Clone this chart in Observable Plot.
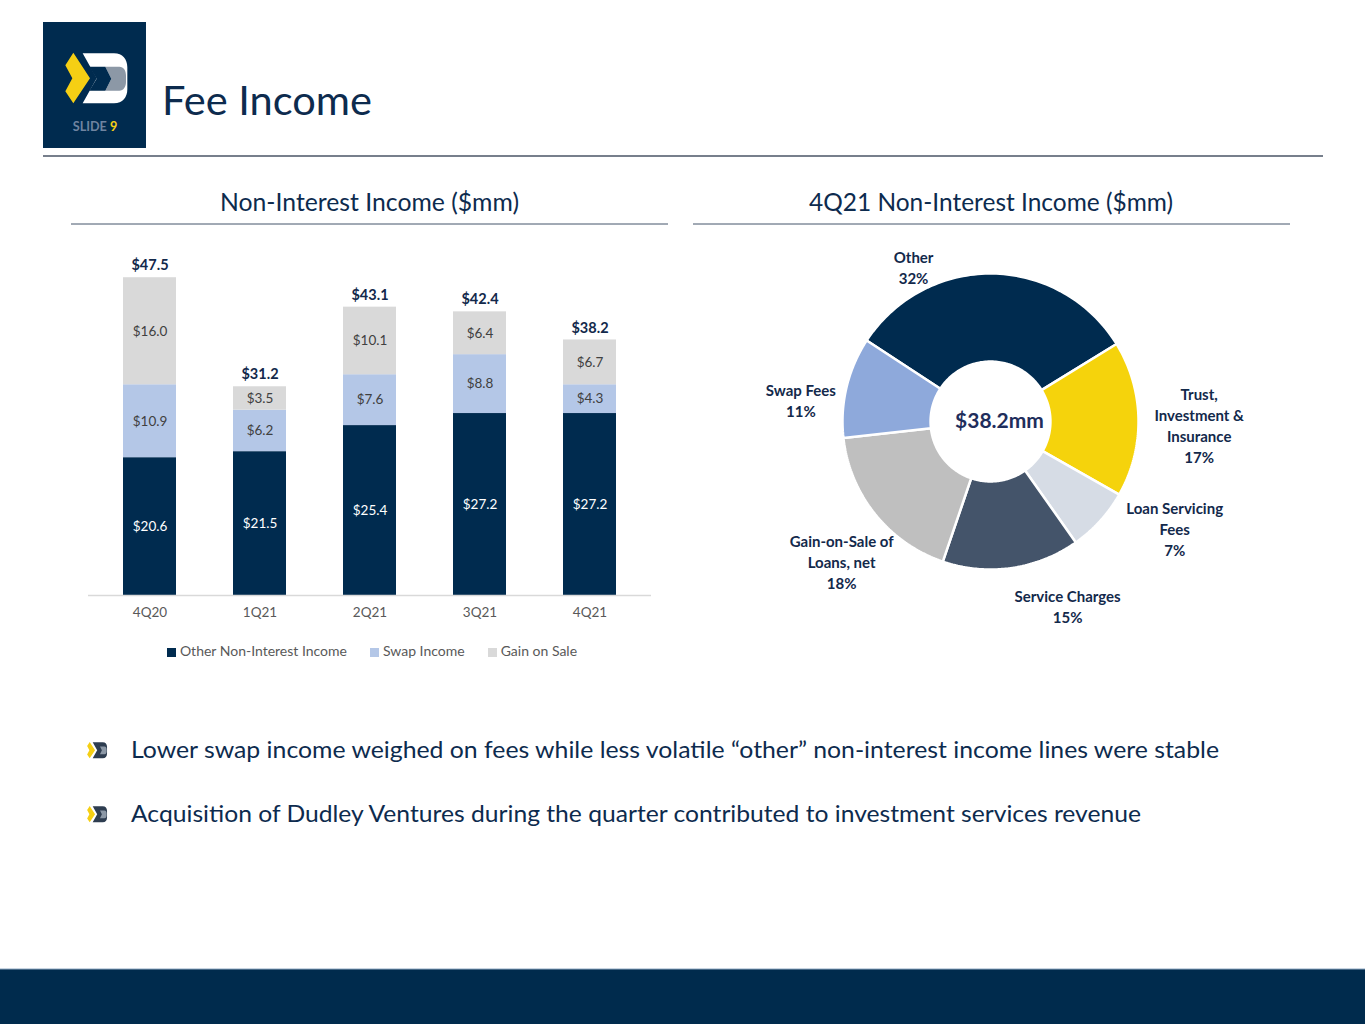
<!DOCTYPE html>
<html><head><meta charset="utf-8">
<script src="https://cdn.jsdelivr.net/npm/d3@7"></script>
<script src="https://cdn.jsdelivr.net/npm/@observablehq/plot@0.6"></script>
<style>
body{margin:0;background:#fff;}
#page{position:relative;width:1365px;height:1024px;overflow:hidden;font-family:Lato,"Open Sans",sans-serif;}
#deco{position:absolute;left:0;top:0}
#bars{position:absolute;left:70px;top:240px}
#donut{position:absolute;left:770px;top:240px}
#legend{position:absolute;left:70px;top:642px;width:604px;height:18px;display:flex;justify-content:center;align-items:center;gap:23px;font-size:14px;color:#595959;line-height:18px}
#legend .sw{display:inline-block;width:9px;height:9px;margin-right:4px;vertical-align:-0.5px}
</style></head>
<body><div id="page">
<svg id="deco" width="1365" height="1024" xmlns="http://www.w3.org/2000/svg">
  <!-- logo -->
  <g transform="translate(40,20) scale(0.3333)">
    <rect x="9" y="6" width="309" height="378" fill="#002B4F"/>
    <path d="M100,98 L150,175 L100,250 L76,214 L97,175 L76,136 Z" fill="#F5CF14"/>
    <path d="M128,100 L222,100 C248,100 262,118 262,142 L262,208 C262,232 248,250 222,250 L128,250 L170,175 Z" fill="#FFFFFF"/>
    <path d="M196,140 L238,140 C251,140 258,152 258,166 L258,186 C258,200 251,212 238,212 L196,212 L214,176 Z" fill="#8C98A6"/>
    <path d="M148,140 L196,140 L214,176 L196,212 L148,212 L170,176 Z" fill="#002B4F"/>
    <text x="165" y="332" text-anchor="middle" font-size="38" font-weight="bold" font-family="Lato,sans-serif"><tspan fill="#6F84A0">SLIDE </tspan><tspan fill="#F5CF14">9</tspan></text>
  </g>
  <text x="162" y="115" font-size="41.5" fill="#0D2B4E" font-family="Lato,sans-serif" textLength="210" lengthAdjust="spacingAndGlyphs">Fee Income</text>
  <line x1="43" y1="156" x2="1323" y2="156" stroke="#4A5466" stroke-width="1.5"/>
  <text x="220" y="211" font-size="24.5" fill="#0D2B4E" font-family="Lato,sans-serif" textLength="299" lengthAdjust="spacingAndGlyphs">Non-Interest Income ($mm)</text>
  <text x="809" y="211" font-size="24.5" fill="#0D2B4E" font-family="Lato,sans-serif" textLength="364" lengthAdjust="spacingAndGlyphs">4Q21 Non-Interest Income ($mm)</text>
  <line x1="71" y1="224" x2="668" y2="224" stroke="#44546A" stroke-width="1"/>
  <line x1="693" y1="224" x2="1290" y2="224" stroke="#44546A" stroke-width="1"/>
  <!-- bullets -->
  <g transform="translate(79,731.5) scale(0.107)">
    <path d="M100,98 L150,175 L100,250 L76,214 L97,175 L76,136 Z" fill="#F5CF14"/>
    <path d="M128,100 L222,100 C248,100 262,118 262,142 L262,208 C262,232 248,250 222,250 L128,250 L170,175 Z" fill="#2E3D50"/>
    <path d="M196,140 L238,140 C251,140 258,152 258,166 L258,186 C258,200 251,212 238,212 L196,212 L214,176 Z" fill="#8C98A6"/>
  </g>
  <g transform="translate(79,795.5) scale(0.107)">
    <path d="M100,98 L150,175 L100,250 L76,214 L97,175 L76,136 Z" fill="#F5CF14"/>
    <path d="M128,100 L222,100 C248,100 262,118 262,142 L262,208 C262,232 248,250 222,250 L128,250 L170,175 Z" fill="#2E3D50"/>
    <path d="M196,140 L238,140 C251,140 258,152 258,166 L258,186 C258,200 251,212 238,212 L196,212 L214,176 Z" fill="#8C98A6"/>
  </g>
  <text x="131" y="758" font-size="23" fill="#0D2B4E" font-family="Lato,sans-serif" textLength="1088" lengthAdjust="spacingAndGlyphs">Lower swap income weighed on fees while less volatile “other” non-interest income lines were stable</text>
  <text x="131" y="822" font-size="23" fill="#0D2B4E" font-family="Lato,sans-serif" textLength="1010" lengthAdjust="spacingAndGlyphs">Acquisition of Dudley Ventures during the quarter contributed to investment services revenue</text>
  <rect x="0" y="969" width="1365" height="55" fill="#002B4D"/>
  <line x1="0" y1="969" x2="1365" y2="969" stroke="#8FA9C3" stroke-width="1"/>
</svg>
<div id="bars"></div>
<div id="legend"></div>
<div id="donut"></div>
</div>
<script>
// ---------- data ----------
const quarters = ["4Q20", "1Q21", "2Q21", "3Q21", "4Q21"];
const seriesNames = ["Other Non-Interest Income", "Swap Income", "Gain on Sale"];
const otherNII = [20.6, 21.5, 25.4, 27.2, 27.2];
const swapIncome = [10.9, 6.2, 7.6, 8.8, 4.3];
const gainOnSale = [16.0, 3.5, 10.1, 6.4, 6.7];
const totals = [47.5, 31.2, 43.1, 42.4, 38.2];

const sliceNames = ["Other", "Trust, Investment & Insurance", "Loan Servicing Fees", "Service Charges", "Gain-on-Sale of Loans, net", "Swap Fees"];
const slicePct = [32, 17, 7, 15, 18, 11];
const sliceLabels = ["Other\n32%", "Trust,\nInvestment &\nInsurance\n17%", "Loan Servicing\nFees\n7%", "Service Charges\n15%", "Gain-on-Sale of\nLoans, net\n18%", "Swap Fees\n11%"];
const donutTotal = "$38.2mm";

// ---------- styles / layout ----------
const barColors = ["#002B4F", "#B4C7E7", "#D9D9D9"];
const sliceColors = ["#002B4F", "#F5D30C", "#D6DCE5", "#44546A", "#BFBFBF", "#8EA9DB"];
const donutStartDeg = -56.8;
const labelAngleDeg = [333.5, 90.8, 120.2, 157.3, 226.8, 276.6];
const labelRadius = [1.165, 1.41, 1.44, 1.35, 1.38, 1.29];
const navyText = "#13294B";
const fmt = v => "$" + v.toFixed(1);

// ---------- bar chart ----------
const seriesValues = [otherNII, swapIncome, gainOnSale];
const barRows = quarters.flatMap((q, i) => seriesNames.map((s, j) => ({q, s, v: seriesValues[j][i]})));
const totalRows = quarters.map((q, i) => ({q, t: totals[i]}));

const barPlot = Plot.plot({
  width: 604, height: 385,
  marginTop: 20.5, marginBottom: 30, marginLeft: 18, marginRight: 23,
  x: {domain: quarters, paddingInner: 0.52, paddingOuter: 0.3, label: null, tickSize: 0, tickPadding: 12},
  y: {domain: [0, 50], axis: null},
  color: {domain: seriesNames, range: barColors},
  style: {fontFamily: "Lato, 'Open Sans', sans-serif", fontSize: "13.5px", color: "#595959", background: "transparent", overflow: "visible"},
  marks: [
    Plot.barY(barRows, {x: "q", y: "v", fill: "s"}),
    Plot.ruleY([0], {stroke: "#D9D9D9", strokeWidth: 1.3}),
    Plot.text(barRows, Plot.filter(d => d.s === seriesNames[0],
      Plot.stackY({x: "q", y: "v", z: "s", text: d => fmt(d.v), fill: "#FFFFFF", fontSize: 13.5}))),
    Plot.text(barRows, Plot.filter(d => d.s !== seriesNames[0],
      Plot.stackY({x: "q", y: "v", z: "s", text: d => fmt(d.v), fill: "#404040", fontSize: 13.5}))),
    Plot.text(totalRows, {x: "q", y: "t", text: d => fmt(d.t), dy: -12, fontWeight: "bold", fontSize: 14.5, fill: navyText})
  ]
});
document.getElementById("bars").appendChild(barPlot);

const legend = document.getElementById("legend");
seriesNames.forEach((s, j) => {
  const item = document.createElement("span");
  item.innerHTML = `<span class="sw" style="background:${barColors[j]}"></span>${s}`;
  legend.appendChild(item);
});

// ---------- donut ----------
const a0 = donutStartDeg * Math.PI / 180;
const pie = d3.pie().sort(null).value(d => d).startAngle(a0).endAngle(a0 + 2 * Math.PI)(slicePct);
const rOuter = 1, rInner = 0.405, nSeg = 80;
const arcRows = pie.flatMap((p, i) => {
  const pts = [];
  for (let k = 0; k <= nSeg; k++) {
    const a = p.startAngle + (p.endAngle - p.startAngle) * k / nSeg;
    pts.push({name: sliceNames[i], x: rOuter * Math.sin(a), y: rOuter * Math.cos(a)});
  }
  for (let k = nSeg; k >= 0; k--) {
    const a = p.startAngle + (p.endAngle - p.startAngle) * k / nSeg;
    pts.push({name: sliceNames[i], x: rInner * Math.sin(a), y: rInner * Math.cos(a)});
  }
  pts.push({...pts[0]});
  return pts;
});
const labelRows = sliceNames.map((name, i) => {
  const a = labelAngleDeg[i] * Math.PI / 180;
  return {name, label: sliceLabels[i], x: labelRadius[i] * Math.sin(a), y: labelRadius[i] * Math.cos(a)};
});

const donutPlot = Plot.plot({
  width: 450, height: 400,
  x: {domain: [-1, 1], range: [72, 368], axis: null},
  y: {domain: [-1, 1], range: [329, 33], axis: null},
  color: {domain: sliceNames, range: sliceColors},
  style: {fontFamily: "Lato, 'Open Sans', sans-serif", background: "transparent", overflow: "visible"},
  marks: [
    Plot.line(arcRows, {x: "x", y: "y", z: "name", fill: "name", stroke: "#FFFFFF", strokeWidth: 2.5, curve: "linear", strokeLinejoin: "miter"}),
    Plot.text(labelRows, {x: "x", y: "y", text: "label", fontWeight: "bold", fontSize: 15, lineHeight: 1.4, fill: navyText}),
    Plot.text([donutTotal], {x: 0, y: 0, text: d => d, dx: 9, fontWeight: "bold", fontSize: 21, fill: "#1F2E5C"})
  ]
});
document.getElementById("donut").appendChild(donutPlot);
</script>
</body></html>
